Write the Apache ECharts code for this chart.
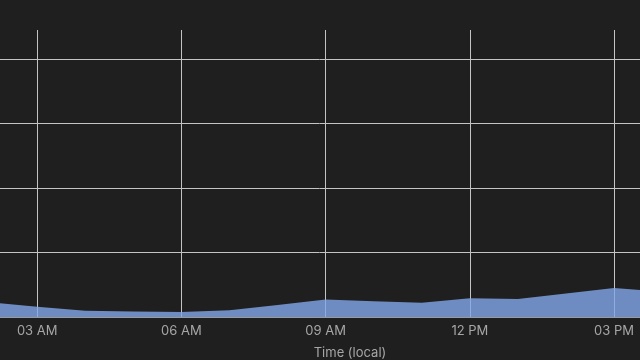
<!DOCTYPE html>
<html>
<head>
<meta charset="utf-8">
<script src="https://cdn.jsdelivr.net/npm/echarts@6/dist/echarts.min.js"></script>
<style>
html,body{margin:0;padding:0;background:#1f1f1f;}
#chart{width:640px;height:360px;}
</style>
</head>
<body>
<div id="chart"></div>
<script>
// Hours since local midnight
const hours = [2, 3, 4, 5, 6, 7, 8, 9, 10, 11, 12, 13, 14, 15, 16];
const values = [0.228, 0.16, 0.098, 0.085, 0.078, 0.104, 0.188, 0.271, 0.243, 0.222, 0.29, 0.279, 0.364, 0.45, 0.392];
const tickLabels = {0: '12 AM', 3: '03 AM', 6: '06 AM', 9: '09 AM', 12: '12 PM', 15: '03 PM'};
const axisTitle = 'Time (local)';

const chart = echarts.init(document.getElementById('chart'));
const lineColor = '#c4c4c4';
chart.setOption({
  backgroundColor: '#1f1f1f',
  animation: false,
  grid: {left: -107, right: 0, top: 30, bottom: 43, containLabel: false, outerBoundsMode: 'none'},
  xAxis: {
    type: 'value',
    min: 0,
    max: 15.54,
    interval: 3,
    name: axisTitle,
    nameLocation: 'middle',
    nameGap: 30,
    nameTextStyle: {color: '#a6a6a6', fontSize: 13, fontFamily: 'Inter', padding: [0, 0, 0, 167]},
    axisLine: {show: true, lineStyle: {color: '#9a9a9a', width: 1}},
    axisTick: {show: false},
    axisLabel: {
      color: '#a6a6a6', fontSize: 13, fontFamily: 'Inter', margin: 8,
      showMaxLabel: false,
      formatter: v => tickLabels[v] !== undefined ? tickLabels[v] : ''
    },
    splitLine: {show: true, lineStyle: {color: lineColor, width: 1}}
  },
  yAxis: {
    type: 'value',
    min: 0,
    max: 4.45,
    interval: 1,
    axisLine: {show: false},
    axisTick: {show: false},
    axisLabel: {show: false},
    splitLine: {show: true, showMaxLine: false, lineStyle: {color: lineColor, width: 1}}
  },
  series: [{
    type: 'line',
    data: hours.map((h, i) => [h, values[i]]),
    showSymbol: false,
    smooth: false,
    lineStyle: {width: 0},
    areaStyle: {color: 'rgb(130,167,235)', opacity: 0.8},
    itemStyle: {color: 'rgb(130,167,235)'}
  }]
});
</script>
</body>
</html>
